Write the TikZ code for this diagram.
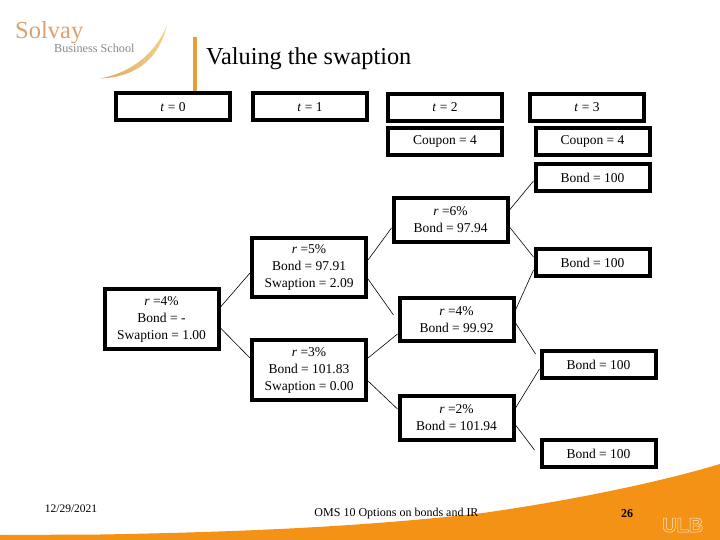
\documentclass[tikz,border=0pt]{standalone}
\usepackage{fontspec}
\setmainfont{Liberation Serif}
\newfontfamily\headsans{Liberation Sans}[Scale=1]
\definecolor{ulborange}{HTML}{F39215}
\definecolor{barorange}{HTML}{E5A035}
\definecolor{logotan}{HTML}{DDA070}
\definecolor{logogray}{HTML}{8A8A8A}
\definecolor{swooshA}{HTML}{E9A25E}
\definecolor{swooshB}{HTML}{E28A2C}
\definecolor{swooshC}{HTML}{EBD68A}
\tikzset{
  box/.style={draw=black,line width=4pt,fill=white,inner sep=0pt,align=center,
    minimum width=114pt,font=\fontsize{13.5}{17}\selectfont,text=black},
  link/.style={draw=black,line width=0.6pt},
  plain/.style={inner sep=0pt,text=black}
}
\begin{document}
\begin{tikzpicture}[x=1pt,y=-1pt]
\useasboundingbox (0,0) rectangle (720,540);
\fill[white] (0,0) rectangle (720,540);
% bottom band
\fill[ulborange] (0,540) -- (0,535) -- (100,534.5) .. controls (240,532) and (360,527) .. (483,513)
  .. controls (560,502) and (650,485) .. (720,464) -- (720,540) -- cycle;
% logo
\node[plain,anchor=base west,text=logotan,font=\fontsize{24.5}{25}\selectfont] (solvay) at (15,39) {Solvay};
\node[plain,anchor=base west,text=logogray,font=\fontsize{12.2}{12}\selectfont] (school) at (54,53) {Business School};
\shade[left color=swooshA,middle color=swooshB,right color=swooshC] (100,78.5)
  .. controls (140,77) and (160,55) .. (167,25)
  .. controls (157,50) and (135,72) .. (100,78.5) -- cycle;
\fill[barorange] (193,37) rectangle (197,92);
\node[plain,anchor=base west,font=\fontsize{24.3}{25}\selectfont] (title) at (206,64.5) {Valuing the swaption};
% header boxes
\node[box,minimum height=27pt] (t0) at (173,107) {\textit{t} = 0};
\node[box,minimum height=27pt] (t1) at (310,107) {\textit{t} = 1};
\node[box,minimum height=27pt] (t2) at (445,107.5) {\textit{t} = 2};
\node[box,minimum height=27pt] (t3) at (587,107.5) {\textit{t} = 3};
\node[box,minimum height=27pt] (c2) at (445,141.5) {Coupon = 4};
\node[box,minimum height=27pt] (c3) at (592.5,141.5) {Coupon = 4};
% tree
\node[box,minimum height=60pt] (r4a) at (161.5,319) {\textit{r} =4\%\\Bond = -\\Swaption = 1.00};
\node[box,minimum height=59pt] (r5) at (309,267.5) {\textit{r} =5\%\\Bond = 97.91\\Swaption = 2.09};
\node[box,minimum height=60pt] (r3) at (309,370) {\textit{r} =3\%\\Bond = 101.83\\Swaption = 0.00};
\node[box,minimum height=44pt] (r6) at (450.5,220) {\textit{r} =6\%\\Bond = 97.94};
\node[box,minimum height=43pt] (r4b) at (456.5,319.5) {\textit{r} =4\%\\Bond = 99.92};
\node[box,minimum height=44pt] (r2) at (456.5,418) {\textit{r} =2\%\\Bond = 101.94};
\node[box,minimum height=27pt] (b1) at (592.5,177.5) {Bond = 100};
\node[box,minimum height=27pt] (b2) at (592.5,262.5) {Bond = 100};
\node[box,minimum height=27pt] (b3) at (598.5,364.5) {Bond = 100};
\node[box,minimum height=27pt] (b4) at (598.5,453.5) {Bond = 100};
% connectors
\draw[link] ([yshift=12pt]r4a.east) -- ([yshift=-5.5pt]r5.west);
\draw[link] ([yshift=-9pt]r4a.east) -- ([yshift=12pt]r3.west);
\draw[link] ([yshift=7.5pt]r5.east) -- ([yshift=-8pt]r6.west);
\draw[link] ([yshift=-11.5pt]r5.east) -- ([xshift=-4pt,yshift=4.5pt]r4b.west);
\draw[link] ([yshift=12pt]r3.east) -- ([yshift=-14.5pt]r4b.west);
\draw[link] ([yshift=-11pt]r3.east) -- ([yshift=9pt]r2.west);
\draw[link] ([yshift=10pt]r6.east) -- ([yshift=-3.5pt]b1.west);
\draw[link] ([yshift=-7pt]r6.east) -- ([yshift=5.5pt]b2.west);
\draw[link] ([yshift=9.5pt]r4b.east) -- ([yshift=-7.5pt]b2.west);
\draw[link] ([yshift=-3.5pt]r4b.east) -- ([xshift=-4pt,yshift=10.5pt]b3.west);
\draw[link] ([yshift=10pt]r2.east) -- ([yshift=-4.5pt]b3.west);
\draw[link] ([yshift=-7pt]r2.east) -- ([xshift=-5pt,yshift=3.5pt]b4.west);
% footer
\node[plain,font=\fontsize{11.5}{12}\selectfont] (date) at (71,509) {12/29/2021};
\node[plain,font=\fontsize{12}{12}\selectfont] (foot) at (396.5,514) {OMS 10 Options on bonds and IR};
\node[plain,font=\bfseries\fontsize{12}{12}\selectfont] (page) at (627,514) {26};
\node[plain,text=white!80!ulborange,font=\headsans\bfseries\fontsize{20}{20}\selectfont,
  anchor=base west] (ulb) at (662,532) {\special{pdf:code 1 Tr 0.5 w}ULB\special{pdf:code 0 Tr 1 w}};
\end{tikzpicture}
\end{document}
